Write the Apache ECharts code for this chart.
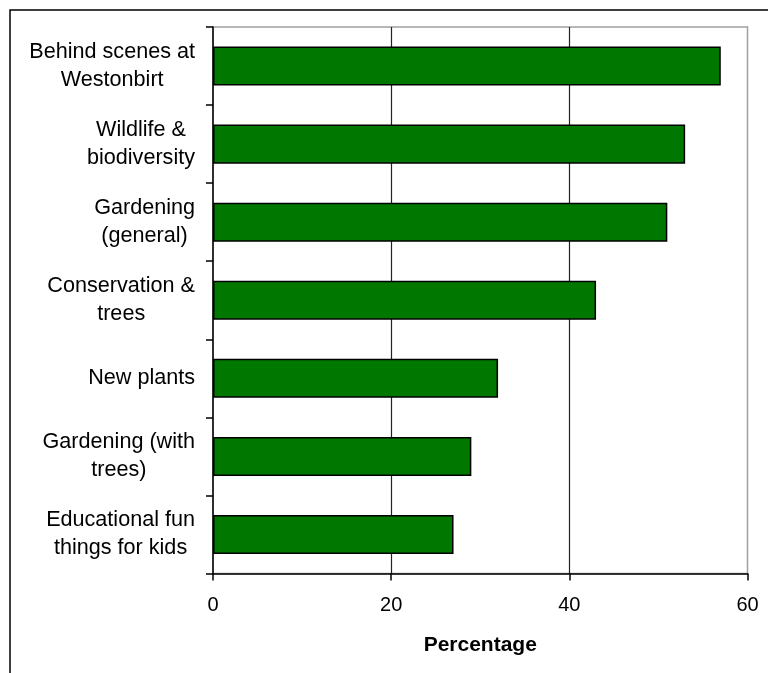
<!DOCTYPE html>
<html>
<head>
<meta charset="utf-8">
<script src="https://cdn.jsdelivr.net/npm/echarts@6/dist/echarts.min.js"></script>
<style>
html,body{margin:0;padding:0;background:#fff;}
#chart{width:768px;height:673px;}
</style>
</head>
<body>
<div id="chart"></div>
<script>
const categories = [
  "Behind scenes at\nWestonbirt",
  "Wildlife &\nbiodiversity",
  "Gardening\n(general)",
  "Conservation &\ntrees",
  "New plants",
  "Gardening (with\ntrees)",
  "Educational fun\nthings for kids"
];
const percentages = [57, 53, 51, 43, 32, 29, 27];
const xTicks = { min: 0, max: 60, interval: 20 };
const axisTitle = "Percentage";

const FONT = '"Liberation Sans", Arial, sans-serif';
const chart = echarts.init(document.getElementById('chart'));
chart.setOption({
  animation: false,
  backgroundColor: '#fff',
  graphic: [{
    type: 'rect', silent: true, z: -1,
    shape: { x: 10, y: 10, width: 800, height: 700 },
    style: { fill: 'none', stroke: '#000', lineWidth: 1.5 }
  }],
  grid: {
    left: 213, right: 20.5, top: 27, bottom: 99.5,
    show: true, borderColor: '#a0a0a0', borderWidth: 1.5, backgroundColor: 'transparent'
  },
  xAxis: {
    type: 'value',
    min: xTicks.min, max: xTicks.max, interval: xTicks.interval,
    name: axisTitle, nameLocation: 'middle', nameGap: 61,
    nameTextStyle: { fontFamily: FONT, fontSize: 21, fontWeight: 'bold', color: '#000' },
    axisLine: { show: true, lineStyle: { color: '#000', width: 1.5 } },
    axisTick: { show: true, length: 7, lineStyle: { color: '#000', width: 1.5 } },
    axisLabel: { fontFamily: FONT, fontSize: 20, color: '#000', margin: 22 },
    splitLine: { show: true, showMinLine: false, showMaxLine: false, lineStyle: { color: '#222', width: 1.2 } }
  },
  yAxis: {
    type: 'category',
    data: categories,
    inverse: true,
    axisLine: { show: true, lineStyle: { color: '#000', width: 1.5 } },
    axisTick: { show: true, length: 7, lineStyle: { color: '#000', width: 1.5 } },
    axisLabel: {
      margin: 18,
      align: 'right',
      formatter: function (v) {
        return v.split('\n').map(function (l) { return '{c|' + l + '}'; }).join('\n');
      },
      rich: {
        c: { align: 'center', fontFamily: FONT, fontSize: 21.6, lineHeight: 28, color: '#000' }
      }
    },
    splitLine: { show: false }
  },
  series: [{
    type: 'bar',
    data: percentages,
    barWidth: '50%',
    itemStyle: { color: '#007800', borderColor: '#000', borderWidth: 1.5 }
  }]
});
</script>
</body>
</html>
